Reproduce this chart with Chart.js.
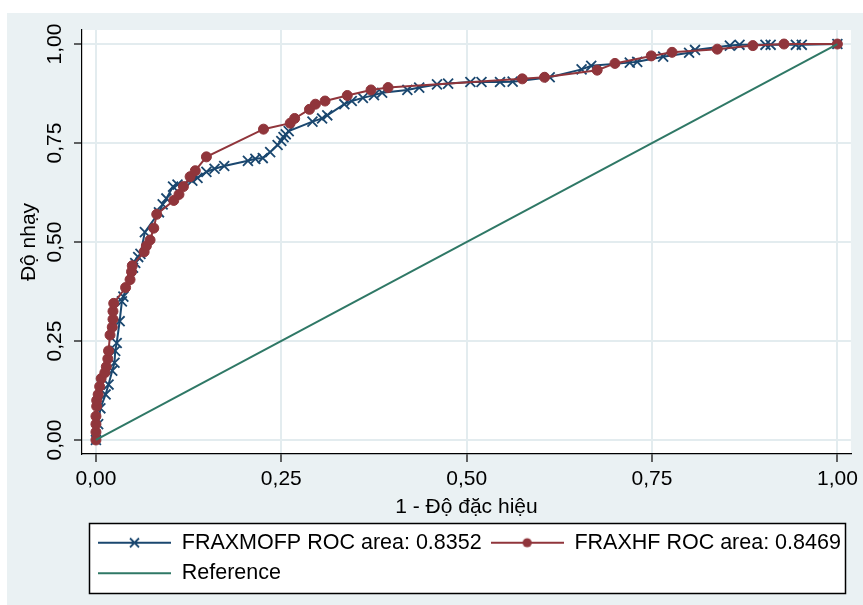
<!DOCTYPE html>
<html>
<head>
<meta charset="utf-8">
<title>ROC</title>
<script src="https://cdn.jsdelivr.net/npm/chart.js@4.4.0/dist/chart.umd.min.js"></script>
<style>
    html, body { margin: 0; padding: 0; background: #ffffff; }
    #wrap { position: absolute; left: 7px; top: 13px; width: 856px; height: 592px; }
</style>
</head>
<body>
<div id="wrap"><canvas id="rocChart" width="856" height="592"></canvas></div>
<script>
const tickValues = [0, 0.25, 0.5, 0.75, 1];

const mofpX = [0.000, 0.003, 0.006, 0.013, 0.017, 0.022, 0.025, 0.026, 0.028, 0.032, 0.035, 0.037,
    0.050, 0.053, 0.057, 0.060, 0.066, 0.085, 0.090, 0.095, 0.104, 0.110, 0.130, 0.137, 0.149,
    0.160, 0.173, 0.205, 0.215, 0.225, 0.235, 0.245, 0.250, 0.253, 0.256, 0.260, 0.292, 0.305,
    0.312, 0.335, 0.345, 0.360, 0.375, 0.386, 0.420, 0.436, 0.460, 0.475, 0.505, 0.520, 0.545,
    0.562, 0.612, 0.655, 0.668, 0.720, 0.730, 0.765, 0.800, 0.808, 0.855, 0.868, 0.903, 0.910,
    0.944, 0.952, 1.000];
const mofpY = [0.000, 0.040, 0.080, 0.115, 0.140, 0.175, 0.195, 0.225, 0.245, 0.300, 0.350, 0.362,
    0.435, 0.447, 0.462, 0.470, 0.525, 0.575, 0.595, 0.610, 0.640, 0.645, 0.655, 0.662, 0.677,
    0.685, 0.692, 0.705, 0.710, 0.712, 0.727, 0.745, 0.755, 0.765, 0.772, 0.780, 0.804, 0.812,
    0.820, 0.848, 0.856, 0.864, 0.871, 0.877, 0.884, 0.890, 0.898, 0.900, 0.904, 0.904, 0.904,
    0.905, 0.916, 0.936, 0.945, 0.953, 0.955, 0.968, 0.978, 0.985, 0.996, 0.998, 0.998, 0.998,
    0.998, 0.998, 1.000];

const hfX = [0.000, 0.000, 0.000, 0.000, 0.001, 0.001, 0.003, 0.005, 0.007, 0.012, 0.014, 0.016,
    0.017, 0.019, 0.022, 0.023, 0.023, 0.024, 0.040, 0.046, 0.048, 0.049, 0.065, 0.068, 0.073,
    0.078, 0.082, 0.105, 0.112, 0.118, 0.127, 0.134, 0.149, 0.226, 0.262, 0.268, 0.288, 0.296,
    0.309, 0.339, 0.371, 0.394, 0.575, 0.605, 0.676, 0.700, 0.749, 0.777, 0.838, 0.886, 0.928,
    1.000];
const hfY = [0.000, 0.020, 0.040, 0.060, 0.085, 0.100, 0.115, 0.135, 0.155, 0.170, 0.185, 0.205,
    0.225, 0.265, 0.285, 0.305, 0.325, 0.345, 0.385, 0.405, 0.425, 0.440, 0.475, 0.490, 0.505,
    0.535, 0.570, 0.605, 0.620, 0.640, 0.665, 0.680, 0.715, 0.785, 0.800, 0.812, 0.835, 0.848,
    0.856, 0.870, 0.884, 0.890, 0.912, 0.916, 0.934, 0.951, 0.970, 0.979, 0.987, 0.996, 1.000,
    1.000];

const refX = [0, 1];
const refY = [0, 1];

const seriesLabels = ['FRAXMOFP ROC area: 0.8352', 'FRAXHF ROC area: 0.8469', 'Reference'];

const FONT = "'Liberation Sans', Arial, sans-serif";
const NAVY = '#1A476F';
const MAROON = '#90353B';
const GREEN = '#2F7866';
const BG = '#EAF1F3';
const GRID = '#E3ECEF';

function toPoints(xs, ys) {
    return xs.map((x, i) => ({ x: x, y: ys[i] }));
}

function formatTick(v) {
    return Number(v).toFixed(2).replace('.', ',');
}

// little line+marker pictures for the legend keys
function makeSample(color, marker) {
    const c = document.createElement('canvas');
    c.width = 73;
    c.height = 22;
    const g = c.getContext('2d');
    g.strokeStyle = color;
    g.lineWidth = 2;
    g.beginPath();
    g.moveTo(0, 11);
    g.lineTo(73, 11);
    g.stroke();
    if (marker === 'x') {
        g.lineWidth = 1.8;
        g.beginPath();
        g.moveTo(32, 6.5); g.lineTo(41, 15.5);
        g.moveTo(41, 6.5); g.lineTo(32, 15.5);
        g.stroke();
    } else if (marker === 'o') {
        g.fillStyle = color;
        g.beginPath();
        g.arc(36.5, 11, 4.6, 0, Math.PI * 2);
        g.fill();
    }
    return c;
}

const samples = [makeSample(NAVY, 'x'), makeSample(MAROON, 'o'), makeSample(GREEN, null)];

const LEGEND_BOX_W = 757;

const stataFrame = {
    id: 'stataFrame',
    afterLayout(chart) {
        // move the legend in line with the Stata key box
        const lg = chart.legend;
        lg.left = 82;
        lg.width = lg.right - lg.left;
    },
    beforeDraw(chart) {
        const ctx = chart.ctx;
        const a = chart.chartArea;
        const lg = chart.legend;
        ctx.save();
        ctx.fillStyle = BG;
        ctx.fillRect(0, 0, chart.width, chart.height);
        ctx.fillStyle = '#ffffff';
        ctx.fillRect(a.left, a.top, a.right - a.left, a.bottom - a.top);
        ctx.fillRect(lg.left, lg.top, LEGEND_BOX_W, lg.height);
        ctx.strokeStyle = '#000000';
        ctx.lineWidth = 1.5;
        ctx.strokeRect(lg.left + 0.5, lg.top + 0.5, LEGEND_BOX_W - 1, lg.height - 1);
        ctx.restore();
    }
};

function axisOptions(min, max, isY) {
    return {
        type: 'linear',
        min: min,
        max: max,
        afterBuildTicks: scale => {
            scale.ticks = tickValues.map(v => ({ value: v }));
        },
        afterFit: scale => {
            if (isY) scale.width = 75;
            else scale.height = 69;
        },
        grid: {
            color: GRID,
            lineWidth: 2,
            tickColor: '#000000',
            tickWidth: 1.2,
            tickLength: 8,
            drawTicks: true
        },
        border: { color: '#000000', width: 1.2 },
        ticks: {
            color: '#000000',
            font: { family: FONT, size: 21 },
            padding: isY ? -2 : 5,
            autoSkip: false,
            minRotation: isY ? 90 : 0,
            maxRotation: isY ? 90 : 0,
            crossAlign: isY ? 'center' : 'near',
            callback: v => formatTick(v)
        },
        title: {
            display: true,
            text: isY ? 'Độ nhạy' : '1 - Độ đặc hiệu',
            color: '#000000',
            font: { family: FONT, size: 21 },
            padding: isY ? { top: 10, bottom: 0 } : { top: 0, bottom: 3 }
        }
    };
}

new Chart(document.getElementById('rocChart'), {
    type: 'scatter',
    data: {
        datasets: [
            {
                label: seriesLabels[0],
                data: toPoints(mofpX, mofpY),
                showLine: true,
                borderColor: NAVY,
                borderWidth: 2,
                pointStyle: 'crossRot',
                pointRadius: 7,
                pointBorderWidth: 1.8,
                pointBorderColor: NAVY,
                pointBackgroundColor: NAVY,
                order: 2
            },
            {
                label: seriesLabels[1],
                data: toPoints(hfX, hfY),
                showLine: true,
                borderColor: MAROON,
                borderWidth: 2,
                pointStyle: 'circle',
                pointRadius: 5,
                pointBorderWidth: 1,
                pointBorderColor: MAROON,
                pointBackgroundColor: MAROON,
                order: 1
            },
            {
                label: seriesLabels[2],
                data: toPoints(refX, refY),
                showLine: true,
                borderColor: GREEN,
                borderWidth: 2,
                pointRadius: 0,
                order: 0
            }
        ]
    },
    options: {
        responsive: false,
        animation: false,
        devicePixelRatio: 1,
        layout: { padding: { left: 0, top: 17, right: 10, bottom: 11 } },
        scales: {
            x: axisOptions(-0.0188, 1.0182, false),
            y: axisOptions(-0.0354, 1.0354, true)
        },
        plugins: {
            tooltip: { enabled: false },
            legend: {
                position: 'bottom',
                align: 'start',
                labels: {
                    color: '#000000',
                    font: { family: FONT, size: 21.5 },
                    padding: 9,
                    usePointStyle: true,
                    pointStyleWidth: 73,
                    generateLabels: chart => chart.data.datasets.map((ds, i) => ({
                        text: ds.label,
                        datasetIndex: i,
                        pointStyle: samples[i],
                        hidden: false,
                        lineWidth: 0,
                        fillStyle: ds.borderColor,
                        strokeStyle: ds.borderColor,
                        fontColor: '#000000'
                    }))
                }
            }
        }
    },
    plugins: [stataFrame]
});
</script>
</body>
</html>
